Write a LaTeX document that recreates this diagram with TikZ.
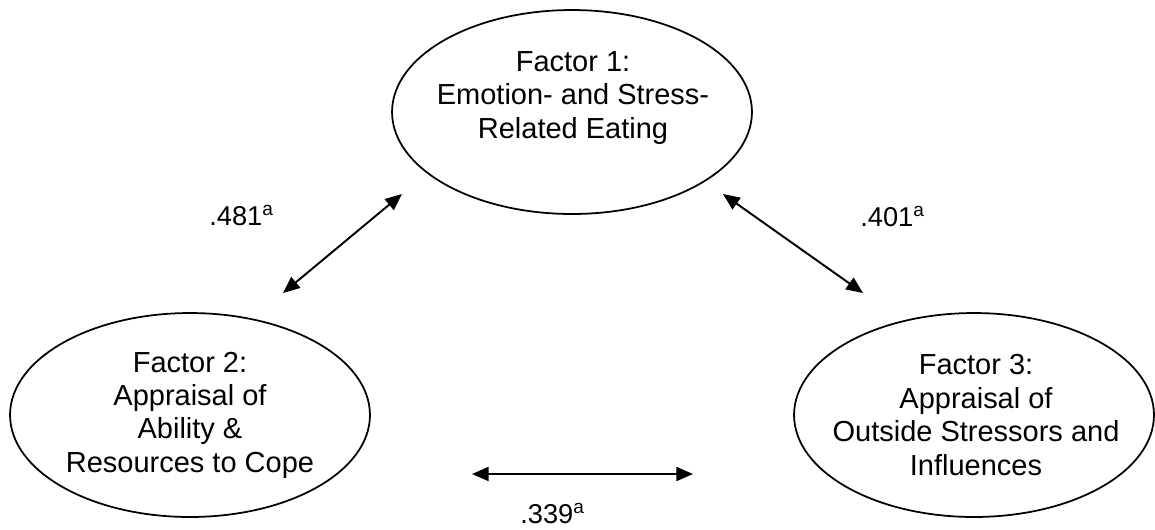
\documentclass[tikz,border=0pt]{standalone}
\usepackage{fontspec}
\setmainfont{Liberation Sans}
\usetikzlibrary{shapes.geometric,arrows.meta,positioning}
\tikzset{
    factor/.style={
        draw=black,
        ellipse,
        line width=1pt,
        minimum width=7.2cm,
        minimum height=4.08cm,
        inner sep=0pt
    },
    factortext/.style={
        align=center,
        inner sep=0pt,
        font=\fontsize{16.5}{19}\selectfont
    },
    corr/.style={
        {Triangle[length=9.5pt,width=8pt]}-{Triangle[length=9.5pt,width=8pt]},
        line width=1.1pt,
        color=black
    },
    coef/.style={
        anchor=base west,
        inner sep=0pt,
        font=\fontsize{15.5}{18}\selectfont
    }
}

\begin{document}
\begin{tikzpicture}[x=0.02cm, y=-0.02cm]
    \useasboundingbox (0,0) rectangle (1155,529);

    % Factor ellipses
    \node[factor] (f1) at (572,112) {};
    \node[factor] (f2) at (190,415) {};
    \node[factor] (f3) at (974,415) {};

    % Factor texts
    \node[factortext] (f1text) at (573,98) {Factor 1:\\Emotion- and Stress-\\Related Eating};
    \node[factortext] (f2text) at (190,415) {Factor 2:\\Appraisal of\\Ability \&\\Resources to Cope};
    \node[factortext] (f3text) at (976,415) {Factor 3:\\Appraisal of\\Outside Stressors and\\Influences};

    % Arrow end points
    \coordinate (c12a) at (283,293);
    \coordinate (c12b) at (402,194);
    \coordinate (c13a) at (723,194);
    \coordinate (c13b) at (863,293);
    \coordinate (c23a) at (472,474);
    \coordinate (c23b) at (693,474);

    % Correlations
    \draw[corr] (c12a) -- (c12b);
    \draw[corr] (c13a) -- (c13b);
    \draw[corr] (c23a) -- (c23b);

    % Coefficients
    \node[coef] (r12) at (209,225) {.481\textsuperscript{a}};
    \node[coef] (r13) at (860,226) {.401\textsuperscript{a}};
    \node[coef] (r23) at (520,523) {.339\textsuperscript{a}};
\end{tikzpicture}
\end{document}
